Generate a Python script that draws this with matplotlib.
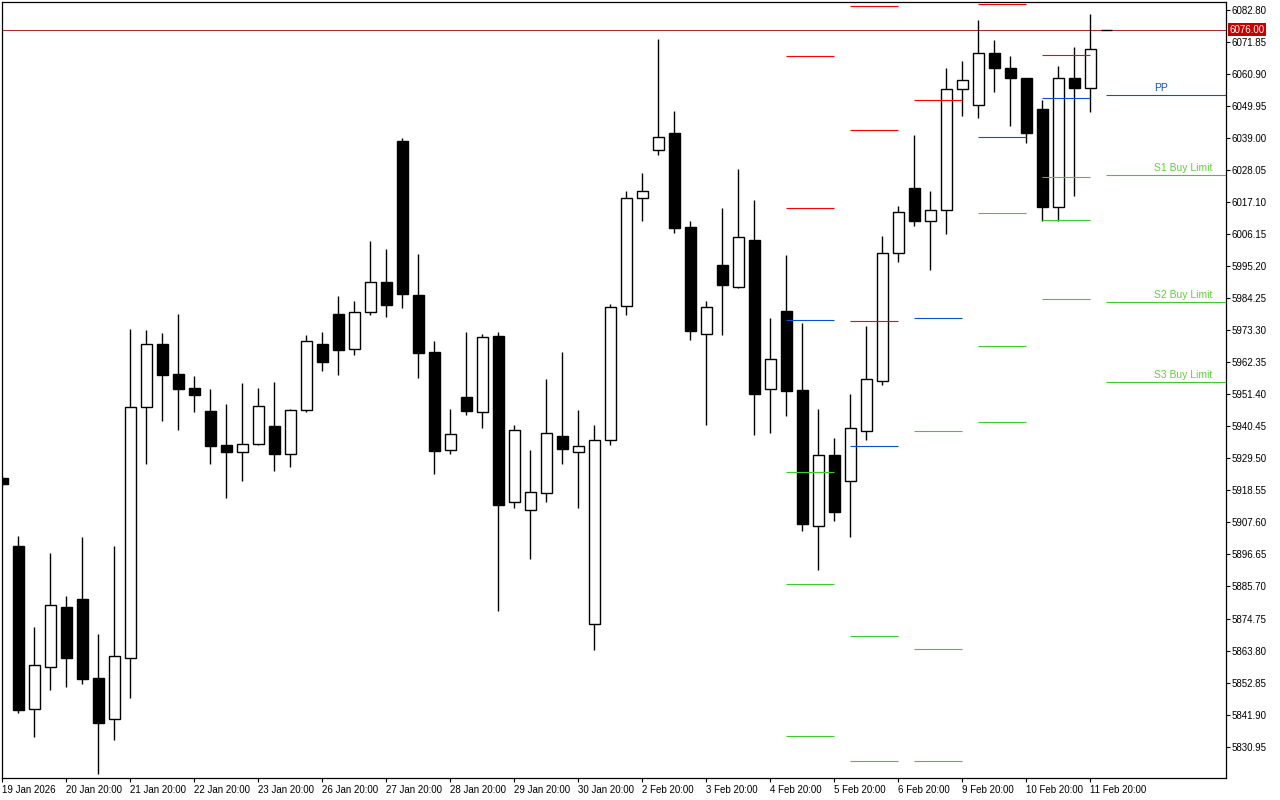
import matplotlib
matplotlib.use("Agg")
import matplotlib.pyplot as plt

plt.rcParams['font.family'] = ['Liberation Sans', 'DejaVu Sans']

# 4 bars per day, oldest first. bar -1 is cut by the left edge, bar 68 just opened
first_bar = -1
opens = [5922.8, 5899.5, 5843.8, 5858.2, 5878.7, 5881.4, 5854.4, 5840.4, 5861.3, 5947.0,
         5968.6, 5958.3, 5953.5, 5945.7, 5934.0, 5931.7, 5934.4, 5940.5, 5931.0, 5946.0,
         5968.4, 5978.8, 5966.7, 5979.5, 5989.6, 6037.9, 5985.3, 5965.8, 5932.2, 5950.4,
         5945.3, 5971.3, 5914.6, 5912.0, 5917.8, 5937.1, 5931.8, 5872.9, 5935.9, 5981.4,
         6018.6, 6035.0, 6040.7, 6008.5, 5972.1, 5995.6, 5988.0, 6004.1, 5953.2, 5979.7,
         5952.8, 5906.5, 5930.5, 5921.6, 5938.9, 5955.9, 5999.7, 6022.0, 6010.6, 6014.3,
         6055.7, 6050.1, 6068.0, 6062.9, 6059.4, 6048.9, 6015.4, 6059.6, 6056.0, 6076.0]
highs = [5923.3, 5902.9, 5871.9, 5897.1, 5882.4, 5902.6, 5869.5, 5899.5, 5973.7, 5973.3,
         5972.3, 5978.8, 5957.6, 5953.2, 5948.1, 5955.2, 5953.5, 5955.6, 5946.3, 5971.6,
         5972.7, 5985.0, 5983.3, 6003.8, 6001.0, 6038.9, 5999.3, 5969.6, 5946.3, 5972.7,
         5972.0, 5972.7, 5940.9, 5932.3, 5956.6, 5965.8, 5946.0, 5940.9, 5982.1, 6020.8,
         6027.0, 6072.8, 6048.2, 6010.6, 5983.3, 6015.0, 6028.4, 6017.8, 5977.4, 5999.1,
         5975.7, 5946.2, 5936.4, 5951.5, 5974.7, 6005.5, 6015.7, 6040.0, 6020.7, 6062.9,
         6065.3, 6079.3, 6072.4, 6067.0, 6059.6, 6051.9, 6063.7, 6070.0, 6081.3, 6076.0]
lows = [5920.2, 5842.5, 5834.3, 5850.3, 5851.4, 5852.4, 5821.6, 5833.2, 5847.6, 5927.6,
        5942.2, 5939.2, 5945.3, 5927.6, 5915.9, 5921.7, 5934.0, 5925.2, 5926.5, 5945.3,
        5959.3, 5958.0, 5964.8, 5978.5, 5977.8, 5981.0, 5956.9, 5924.2, 5931.1, 5944.4,
        5939.9, 5877.3, 5912.6, 5895.1, 5914.6, 5927.6, 5912.6, 5864.0, 5934.0, 5978.5,
        6010.6, 6033.3, 6006.5, 5969.9, 5940.9, 5971.6, 5987.7, 5937.6, 5938.1, 5943.8,
        5904.5, 5891.3, 5908.1, 5902.6, 5935.6, 5954.5, 5996.6, 6008.9, 5993.8, 6006.1,
        6046.6, 6045.8, 6054.5, 6042.9, 6037.4, 6010.6, 6010.6, 6019.0, 6047.7, 6076.0]
closes = [5920.7, 5843.5, 5858.9, 5879.4, 5861.3, 5854.1, 5839.0, 5861.9, 5947.0, 5968.6,
          5958.0, 5953.2, 5951.1, 5933.7, 5931.7, 5934.4, 5947.4, 5931.0, 5946.0, 5969.6,
          5962.4, 5966.5, 5979.5, 5989.6, 5982.0, 5985.7, 5965.6, 5932.0, 5937.8, 5945.7,
          5971.1, 5913.5, 5939.2, 5918.0, 5938.1, 5932.7, 5933.8, 5935.9, 5981.1, 6018.6,
          6021.0, 6039.4, 6008.2, 5973.0, 5981.2, 5988.7, 6005.1, 5951.6, 5963.4, 5952.5,
          5907.2, 5930.6, 5911.1, 5939.7, 5956.6, 5999.7, 6013.7, 6010.6, 6014.3, 6055.7,
          6058.8, 6068.0, 6062.9, 6059.3, 6040.5, 6015.4, 6059.6, 6056.0, 6069.2, 6076.0]

current_price = 6076.00

# daily pivot levels (first bar of the day -> levels)
piv_start = [48, 52, 56, 60, 64, 68]
piv_red = [[6067.0, 6015.0], [6084.1, 6041.7, 5976.4], [6051.9], [6084.7], [6067.3], []]
piv_blue = [5976.8, 5933.7, 5977.4, 6039.3, 6052.6, 6053.6]
piv_green = [[5924.8, 5886.5, 5834.6], [5868.8, 5826.1], [5938.8, 5864.3, 5826.1],
             [6013.3, 5967.9, 5941.9], [6025.6, 6010.9, 5983.9], [6026.3, 5982.9, 5955.6]]
green_labels = ['S1 Buy Limit', 'S2 Buy Limit', 'S3 Buy Limit']

price_ticks = [6082.80, 6071.85, 6060.90, 6049.95, 6039.00, 6028.05, 6017.10, 6006.15,
               5995.20, 5984.25, 5973.30, 5962.35, 5951.40, 5940.45, 5929.50, 5918.55,
               5907.60, 5896.65, 5885.70, 5874.75, 5863.80, 5852.85, 5841.90, 5830.95]
date_bars = [-1, 3, 7, 11, 15, 19, 23, 27, 31, 35, 39, 43, 47, 51, 55, 59, 63, 67]
date_labels = ['19 Jan 2026', '20 Jan 20:00', '21 Jan 20:00', '22 Jan 20:00', '23 Jan 20:00',
               '26 Jan 20:00', '27 Jan 20:00', '28 Jan 20:00', '29 Jan 20:00', '30 Jan 20:00',
               '2 Feb 20:00', '3 Feb 20:00', '4 Feb 20:00', '5 Feb 20:00', '6 Feb 20:00',
               '9 Feb 20:00', '10 Feb 20:00', '11 Feb 20:00']

RED = '#ff0000'
BLUE = '#0a4fd8'
GREEN = '#3ccc2c'
LBL_GREEN = '#62cf3a'

fig = plt.figure(figsize=(12.8, 8), dpi=100)
ax = fig.add_axes([2 / 1280, 22 / 800, 1224 / 1280, 776 / 800])
x_left, x_right = -1.03, 75.47
ax.set_xlim(x_left, x_right)
ax.set_ylim(5820.25, 6085.42)

# candles
for k in range(len(opens)):
    x = first_bar + k
    o, h, l, c = opens[k], highs[k], lows[k], closes[k]
    up = c >= o
    ax.vlines(x, l, h, color='black', lw=1.0, zorder=2)
    ax.bar(x, abs(c - o), bottom=min(o, c), width=0.69,
           facecolor='white' if up else 'black', edgecolor='black', lw=1.0, zorder=3)

# pivot segments
for j in range(len(piv_start)):
    x0 = piv_start[j]
    x1 = x0 + 3 if j < len(piv_start) - 1 else x_right
    for v in piv_red[j]:
        ax.hlines(v, x0, x1, color=RED, lw=0.8, zorder=4)
    ax.hlines(piv_blue[j], x0, x1, color=BLUE, lw=0.8, zorder=4)
    for v in piv_green[j]:
        ax.hlines(v, x0, x1, color=GREEN, lw=0.8, zorder=4)

# labels on the current day's levels
lx = 70.95
ax.annotate('PP', xy=(lx, piv_blue[-1]), xytext=(0, 1.5), textcoords='offset points',
            color=BLUE, fontsize=7.5, ha='left', va='bottom')
for v, t in zip(piv_green[-1], green_labels):
    ax.annotate(t, xy=(lx, v), xytext=(0, 1.5), textcoords='offset points',
                color=LBL_GREEN, fontsize=7.5, ha='left', va='bottom')

# bid line + price box
ax.axhline(current_price, color='#a00000', lw=0.6, zorder=1)
ax.annotate('%.2f' % current_price, xy=(1, current_price), xycoords=('axes fraction', 'data'),
            xytext=(2.5, 0), textcoords='offset points', ha='left', va='center',
            color='white', fontsize=7,
            bbox=dict(boxstyle='square,pad=0.18', fc='#c80000', ec='none'))

ax.yaxis.tick_right()
ax.set_yticks(price_ticks)
ax.set_yticklabels(['%.2f' % v for v in price_ticks])
ax.tick_params(axis='y', direction='out', length=3, width=0.8, labelsize=7, pad=1)

ax.set_xticks(date_bars)
ax.set_xticklabels(date_labels)
for lbl in ax.get_xticklabels():
    lbl.set_ha('left')
ax.tick_params(axis='x', direction='out', length=3, width=0.8, labelsize=7, pad=2)

for s in ax.spines.values():
    s.set_linewidth(0.9)
    s.set_color('black')

fig.savefig('out.png', dpi=100, facecolor='white')
